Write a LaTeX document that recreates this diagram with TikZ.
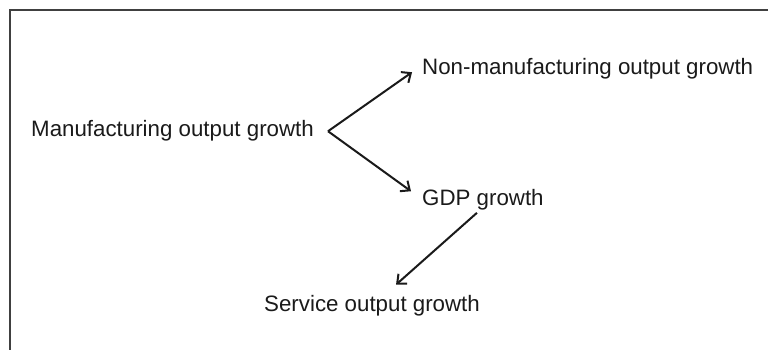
\documentclass[tikz,border=0pt]{standalone}
\usepackage{fontspec}
\setmainfont{Liberation Sans}
\usetikzlibrary{arrows.meta}
\definecolor{frame}{HTML}{404040}
\definecolor{ink}{HTML}{1A1A1A}
\begin{document}
\begin{tikzpicture}[x=1pt,y=-1pt,
  lbl/.style={inner sep=0pt,anchor=base west,text=ink,font=\fontsize{22.3}{26}\selectfont},
  arr/.style={draw=ink,line width=2pt,-{Straight Barb[length=7.5pt,width=13pt,line width=2pt]}}]
\useasboundingbox (0,0) rectangle (768,350);
\fill[white] (0,0) rectangle (768,350);
\draw[frame,line width=2pt] (10,350) -- (10,10) -- (768,10);
\node[lbl] (manu) at (31,137) {Manufacturing output growth};
\node[lbl] (non) at (422,75) {Non-manufacturing output growth};
\node[lbl] (gdp) at (422,205) {GDP growth};
\node[lbl] (serv) at (264,311) {Service output growth};
\coordinate (apex) at ([xshift=14pt]manu.east);
\draw[arr] (apex) -- ([shift={(-10,3)}]non.west);
\draw[arr] (apex) -- ([shift={(-11,-8)}]gdp.west);
\draw[arr] ([shift={(-6,3)}]gdp.south) -- ([shift={(24,-10)}]serv.north);
\end{tikzpicture}
\end{document}
